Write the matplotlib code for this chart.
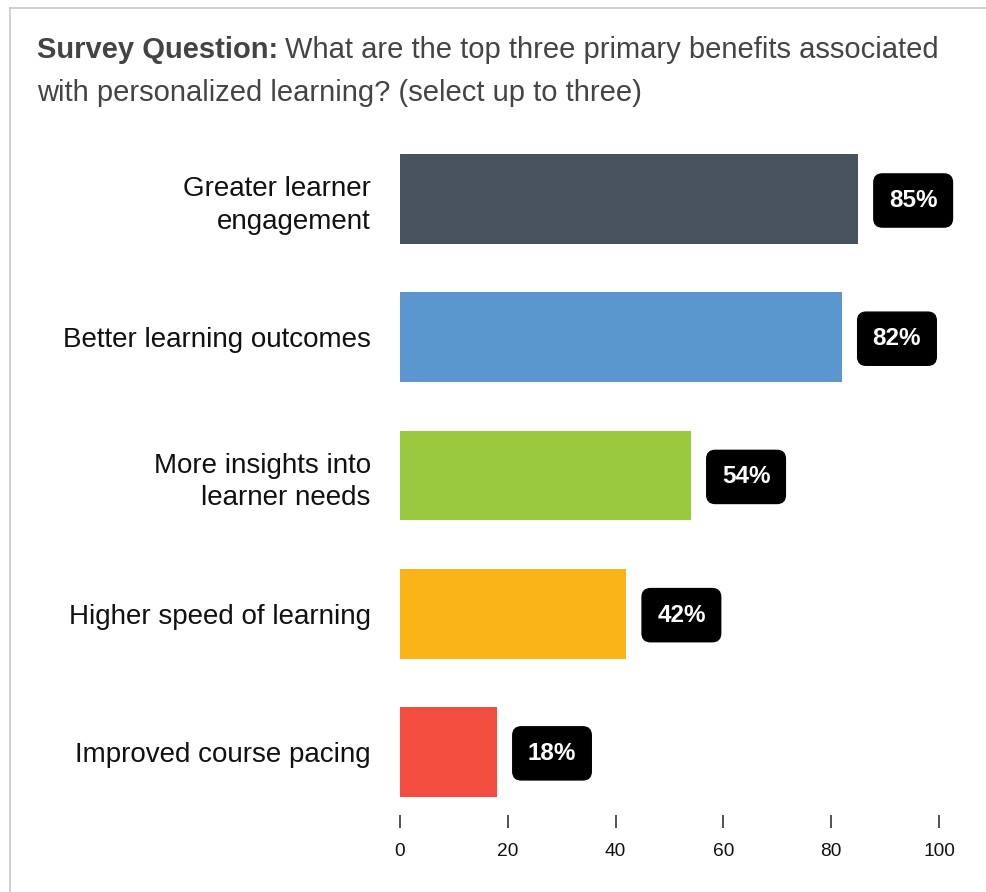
import matplotlib.pyplot as plt
from matplotlib.lines import Line2D

plt.rcParams['font.family'] = ['Liberation Sans', 'DejaVu Sans']

# Data
categories = [
    "Greater learner\nengagement",
    "Better learning outcomes",
    "More insights into\nlearner needs",
    "Higher speed of learning",
    "Improved course pacing",
]
values = [85, 82, 54, 42, 18]
colors = ["#48525e", "#5b97cf", "#98c93f", "#fbb418", "#f24d3e"]
xticks = [0, 20, 40, 60, 80, 100]

W, H = 986, 892
fig = plt.figure(figsize=(W / 100, H / 100), dpi=100)

# axes placed in pixel terms
left, right, top, bottom = 400, 939, 130, 815
ax = fig.add_axes([left / W, (H - bottom) / H, (right - left) / W, (bottom - top) / H])

ypos = list(range(len(categories)))
ax.barh(ypos, values, height=0.65, color=colors)
ax.set_xlim(0, 100)
ax.set_ylim(4.456, -0.5)

ax.set_yticks(ypos)
ax.set_yticklabels(categories, fontsize=20, color="#111111", linespacing=1.32)
ax.tick_params(axis="y", length=0, pad=21)
ax.set_xticks(xticks)
ax.tick_params(axis="x", length=9.5, width=1.2, color="#333333", pad=11,
               labelsize=13.8, labelcolor="#111111")
for s in ax.spines.values():
    s.set_visible(False)

# value badges
for y, v in zip(ypos, values):
    ax.annotate(f"{v}%", xy=(v, y), xytext=(39.6, -1), textcoords="offset points",
                ha="center", va="center", fontsize=17.5, fontweight="bold", color="white",
                bbox=dict(boxstyle="round,pad=0.62,rounding_size=0.35", fc="black", ec="black"))

# title
tcol = "#444444"
t1 = fig.text(37 / W, 1 - 58 / H, "Survey Question:", fontsize=21, fontweight="bold",
              color=tcol, va="baseline", ha="left")
fig.canvas.draw()
bb = t1.get_window_extent()
fig.text((bb.x1 + 7) / W, 1 - 58 / H, "What are the top three primary benefits associated",
         fontsize=21, color=tcol, va="baseline", ha="left")
fig.text(37 / W, 1 - 101 / H, "with personalized learning? (select up to three)",
         fontsize=21, color=tcol, va="baseline", ha="left")

# frame lines at top and left
fig.add_artist(Line2D([10 / W, 1], [1 - 8 / H, 1 - 8 / H], color="#c8c8c8", lw=1.2))
fig.add_artist(Line2D([10 / W, 10 / W], [0, 1 - 8 / H], color="#c8c8c8", lw=1.2))

fig.savefig("out.png", dpi=100)
